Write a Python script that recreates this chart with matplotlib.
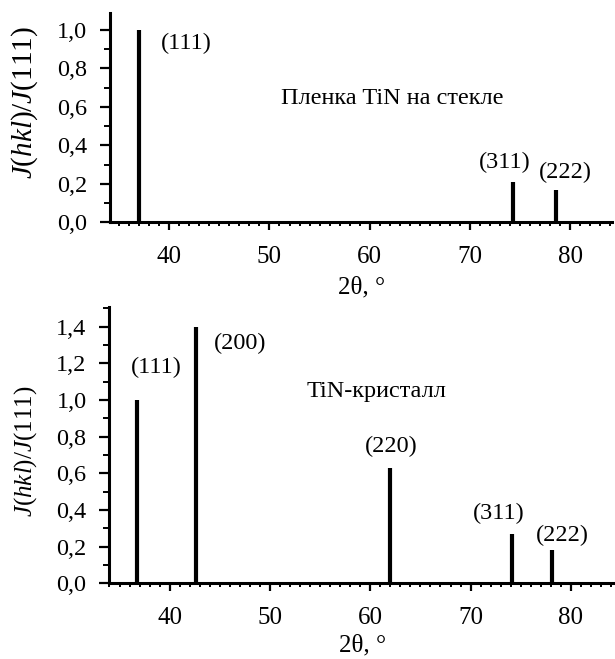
import matplotlib
matplotlib.use("Agg")
import matplotlib.pyplot as plt
from matplotlib.ticker import MultipleLocator, FuncFormatter

plt.rcParams["font.family"] = ["Liberation Serif", "DejaVu Serif"]
plt.rcParams["mathtext.fontset"] = "custom"
plt.rcParams["mathtext.rm"] = "Liberation Serif"
plt.rcParams["mathtext.it"] = "Liberation Serif:italic"

# Плёнка TiN на стекле
film_angle = [37.0, 42.7, 62.2, 74.3, 78.6]
film_int = [1.0, 0.005, 0.005, 0.21, 0.17]
film_labels = ["(111)", "", "", "(311)", "(222)"]
film_label_pos = [(41.7, 0.93), None, None, (73.45, 0.31), (79.5, 0.26)]

# Кристалл TiN
cryst_angle = [36.74, 42.63, 61.93, 74.18, 78.1]
cryst_int = [1.0, 1.4, 0.63, 0.27, 0.18]
cryst_labels = ["(111)", "(200)", "(220)", "(311)", "(222)"]
cryst_label_pos = [(38.7, 1.175), (47.0, 1.31), (62.1, 0.745), (72.8, 0.38), (79.2, 0.26)]

comma = FuncFormatter(lambda v, p: f"{v:.1f}".replace(".", ","))


def style_axes(ax, xlim, ylim, xlabelpad, ylab_size, ylab_y):
    ax.set_xlim(*xlim)
    ax.set_ylim(*ylim)
    for s in ["top", "right"]:
        ax.spines[s].set_visible(False)
    for s in ["left", "bottom"]:
        ax.spines[s].set_linewidth(2.2)
    ax.xaxis.set_major_locator(MultipleLocator(10))
    ax.xaxis.set_minor_locator(MultipleLocator(1))
    ax.yaxis.set_major_locator(MultipleLocator(0.2))
    ax.yaxis.set_minor_locator(MultipleLocator(0.1))
    ax.yaxis.set_major_formatter(comma)
    ax.tick_params(axis="x", which="major", length=6, width=1.6, labelsize=18, pad=11)
    ax.tick_params(axis="x", which="minor", length=3, width=1.4)
    ax.tick_params(axis="y", which="major", length=7.5, width=1.6, labelsize=17.5, pad=9)
    ax.tick_params(axis="y", which="minor", length=4.5, width=1.4)
    ax.set_xlabel("2θ, °", fontsize=18, labelpad=xlabelpad)
    ax.set_ylabel(r"$J$($hkl$)/$J$(111)", fontsize=ylab_size)
    ax.yaxis.set_label_coords(-0.14, ylab_y)


def draw_panel(ax, angle, inten, labels, pos, title, title_pos):
    ax.vlines(angle, 0, inten, colors="black", linewidth=3.0)
    for lab, p in zip(labels, pos):
        if lab:
            ax.text(p[0], p[1], lab, fontsize=17.5, ha="center", va="center")
    ax.text(title_pos[0], title_pos[1], title, fontsize=17.5, ha="center", va="center")


fig = plt.figure(figsize=(6.15, 6.59), dpi=100)

ax1 = fig.add_axes([0.1789, 0.6627, 0.8169, 0.318])
style_axes(ax1, (34.1, 84.2), (0, 1.09), 6, 21, 0.57)
draw_panel(ax1, film_angle, film_int, film_labels, film_label_pos,
           "Пленка TiN на стекле", (62.2, 0.646))

ax2 = fig.add_axes([0.178, 0.1149, 0.822, 0.4188])
style_axes(ax2, (34.0, 84.4), (0, 1.506), 4, 18, 0.48)
draw_panel(ax2, cryst_angle, cryst_int, cryst_labels, cryst_label_pos,
           "TiN-кристалл", (60.6, 1.045))

fig.savefig("out.png", dpi=100)
